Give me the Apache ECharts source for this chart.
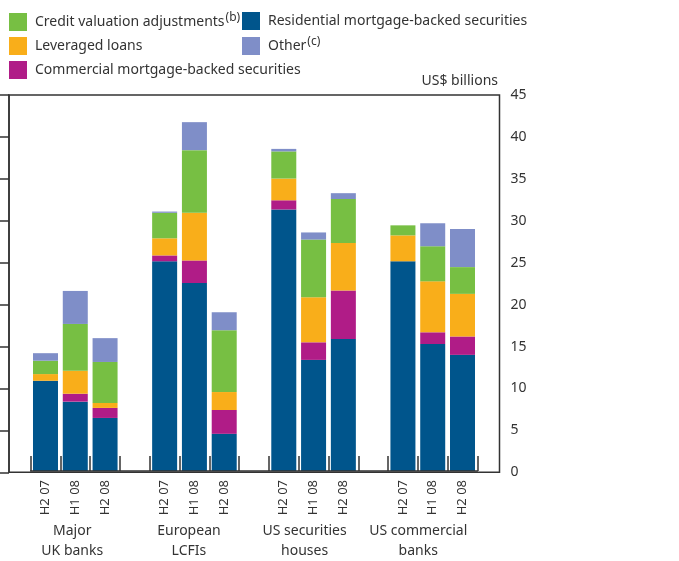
<!DOCTYPE html>
<html>
<head>
<meta charset="utf-8">
<script src="https://cdn.jsdelivr.net/npm/echarts@6/dist/echarts.min.js"></script>
<style>
  html, body { margin: 0; padding: 0; background: #fff; }
  #chart { width: 679px; height: 561px; }
</style>
</head>
<body>
<div id="chart"></div>
<script>
  // groups and periods on the x axis
  const groups = ['Major\nUK banks', 'European\nLCFIs', 'US securities\nhouses', 'US commercial\nbanks'];
  const periods = ['H2 07', 'H1 08', 'H2 08'];

  // US$ billions, one value per bar (group by group, H2 07 / H1 08 / H2 08)
  const rmbs = [10.8, 8.3, 6.35, 25.1, 22.5, 4.45, 31.3, 13.3, 15.8, 25.1, 15.2, 13.9];
  const cmbs = [0, 0.95, 1.2, 0.7, 2.7, 2.85, 1.1, 2.1, 5.8, 0, 1.4, 2.2];
  const leveraged = [0.8, 2.75, 0.6, 2.05, 5.7, 2.15, 2.6, 5.4, 5.7, 3.1, 6.1, 5.1];
  const cva = [1.6, 5.6, 4.9, 3.05, 7.5, 7.4, 3.25, 6.9, 5.25, 1.2, 4.2, 3.2];
  const other = [0.9, 3.95, 2.85, 0.15, 3.35, 2.15, 0.3, 0.85, 0.7, 0, 2.75, 4.55];

  const yMin = 0, yMax = 45, yStep = 5;

  const textColor = '#333';
  const font = 'Noto Sans';

  // categories with an empty slot between groups
  const cats = [];
  groups.forEach(function (g, gi) {
    if (gi > 0) cats.push('gap' + gi);
    periods.forEach(function (p) { cats.push(gi + '|' + p); });
  });

  function pad(arr) {
    const out = [];
    arr.forEach(function (v, i) {
      if (i > 0 && i % 3 === 0) out.push('-');
      out.push(v);
    });
    return out;
  }

  function bar(name, data, color) {
    return {
      name: name,
      type: 'bar',
      stack: 'total',
      xAxisIndex: 0,
      yAxisIndex: 0,
      barWidth: 25,
      data: pad(data),
      itemStyle: { color: color },
      emphasis: { disabled: true }
    };
  }

  const legendText = {
    color: textColor,
    fontFamily: font,
    fontSize: 14,
    padding: [0, 0, 0, 3],
    rich: {
      a: { fontSize: 14, fontFamily: font, color: textColor, lineHeight: 20 },
      s: { fontSize: 12, fontFamily: font, color: textColor, verticalAlign: 'top', padding: [0, 0, 0, 1] }
    }
  };
  function legendFormat(name) {
    if (name === 'Credit valuation adjustments') return '{a|' + name + '}{s|(b)}';
    if (name === 'Other') return '{a|' + name + '}{s|(c)}';
    return name;
  }

  // group captions, nudged a little left like the original
  function groupStyle(shift) {
    return { fontSize: 14, lineHeight: 20, color: textColor, fontFamily: font, padding: [0, shift, 0, 0] };
  }

  const chart = echarts.init(document.getElementById('chart'));
  chart.setOption({
    animation: false,
    textStyle: { fontFamily: font },
    title: {
      text: 'US$ billions',
      right: 181,
      top: 74,
      padding: 0,
      textStyle: { fontSize: 14, fontWeight: 'normal', color: textColor, fontFamily: font }
    },
    legend: [
      {
        data: ['Credit valuation adjustments', 'Leveraged loans', 'Commercial mortgage-backed securities'],
        orient: 'vertical',
        left: 9, top: 12, padding: 0,
        itemWidth: 18, itemHeight: 18, itemGap: 6,
        icon: 'rect',
        selectedMode: false,
        formatter: legendFormat,
        textStyle: legendText
      },
      {
        data: ['Residential mortgage-backed securities', 'Other'],
        orient: 'vertical',
        left: 242, top: 12, padding: 0,
        itemWidth: 18, itemHeight: 18, itemGap: 6,
        icon: 'rect',
        selectedMode: false,
        formatter: legendFormat,
        textStyle: legendText
      }
    ],
    grid: [
      { left: 30.6, right: 201.6, top: 95, bottom: 88.7 },
      { left: 9, right: 179.5, top: 95, bottom: 88.7, show: true, borderColor: '#333', borderWidth: 1.5, backgroundColor: 'transparent' }
    ],
    xAxis: [
      {
        type: 'category',
        gridIndex: 0,
        data: cats,
        position: 'bottom',
        axisLine: { show: true, onZero: false, lineStyle: { color: '#333', width: 1.5 } },
        axisTick: {
          show: true,
          inside: true,
          length: 15,
          interval: 0,
          lineStyle: { color: '#333', width: 1.5 }
        },
        axisLabel: {
          interval: 0,
          rotate: 90,
          margin: 9,
          fontSize: 13,
          color: textColor,
          fontFamily: font,
          formatter: function (v) { return v.indexOf('gap') === 0 ? '' : v.split('|')[1]; }
        },
        z: 5
      },
      {
        type: 'category',
        gridIndex: 0,
        data: cats,
        position: 'bottom',
        axisLine: { show: false },
        axisTick: { show: false },
        axisLabel: {
          interval: 0,
          margin: 50,
          fontSize: 14,
          lineHeight: 20,
          color: textColor,
          fontFamily: font,
          rich: {
            g0: groupStyle(6),
            g1: groupStyle(11),
            g2: groupStyle(18),
            g3: groupStyle(29)
          },
          formatter: function (v) {
            if (v.indexOf('gap') === 0) return '';
            const parts = v.split('|');
            if (parts[1] !== periods[1]) return '';
            const tag = 'g' + parts[0];
            return groups[+parts[0]].split('\n').map(function (line) {
              return '{' + tag + '|' + line + '}';
            }).join('\n');
          }
        }
      },
      { type: 'value', gridIndex: 1, show: false, min: 0, max: 1 }
    ],
    yAxis: [
      { type: 'value', gridIndex: 0, min: yMin, max: yMax, interval: yStep, show: false },
      {
        type: 'value',
        gridIndex: 1,
        position: 'right',
        min: yMin, max: yMax, interval: yStep,
        splitLine: { show: false },
        axisLine: { show: true, lineStyle: { color: '#333', width: 1.5 } },
        axisTick: { show: true, inside: true, length: 14, lineStyle: { color: '#333', width: 1.5 } },
        axisLabel: { margin: 11, fontSize: 14, color: textColor, fontFamily: font }
      }
    ],
    series: [
      bar('Residential mortgage-backed securities', rmbs, '#00558c'),
      bar('Commercial mortgage-backed securities', cmbs, '#b01c87'),
      bar('Leveraged loans', leveraged, '#f9ae1a'),
      bar('Credit valuation adjustments', cva, '#77bf43'),
      bar('Other', other, '#7f8ec8')
    ]
  });
</script>
</body>
</html>
